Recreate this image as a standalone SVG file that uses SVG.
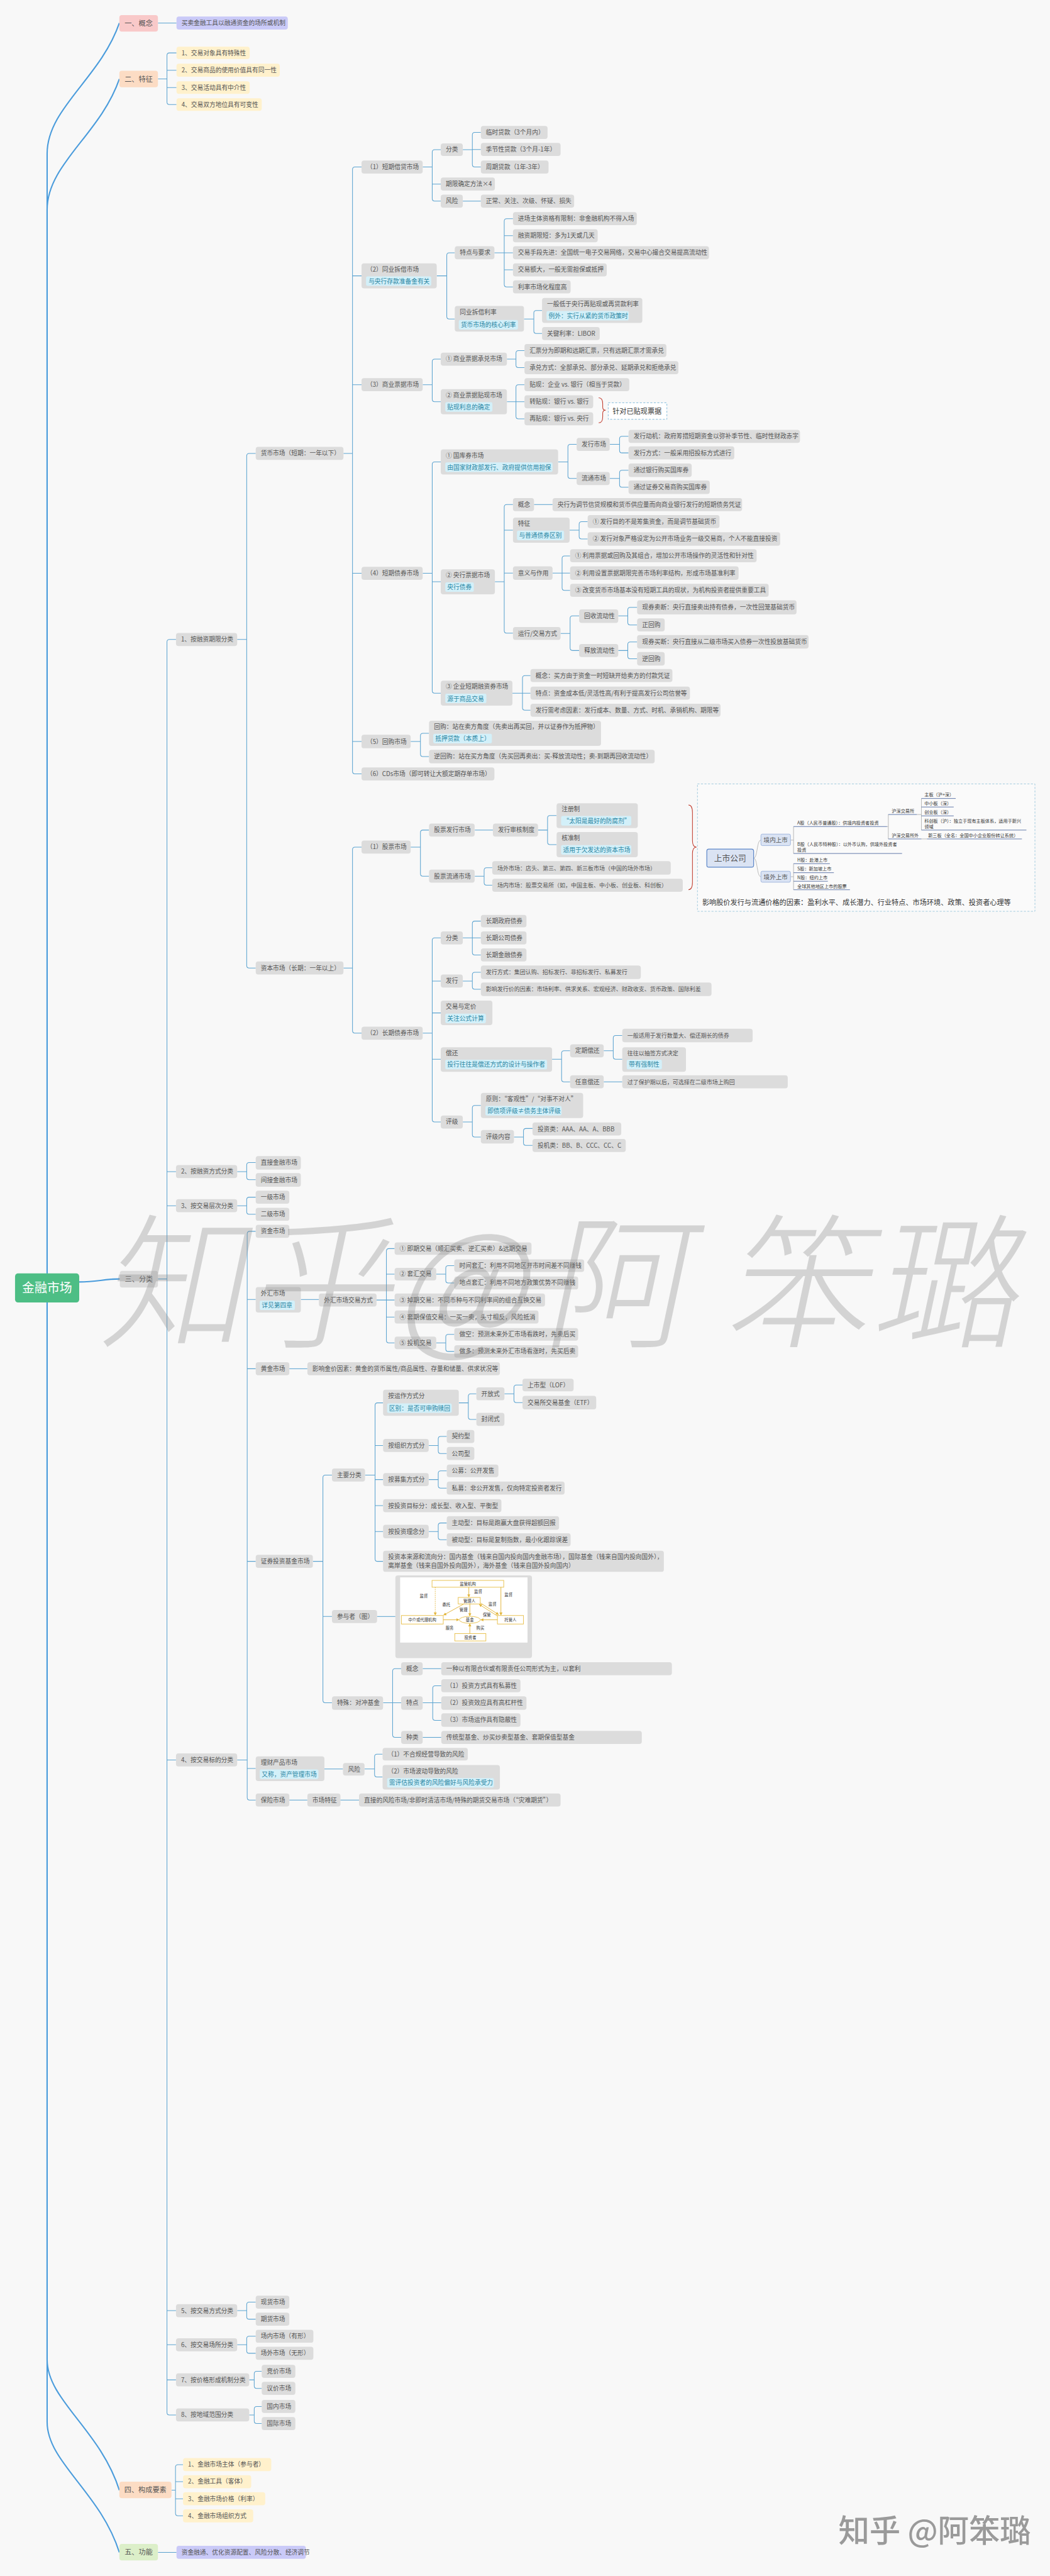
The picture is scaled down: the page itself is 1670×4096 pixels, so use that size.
<svg xmlns="http://www.w3.org/2000/svg" width="1670" height="4096" viewBox="0 0 1670 4096">
<style>
.t{font-family:"Noto Sans CJK SC","Microsoft YaHei",sans-serif;font-size:12.2px;fill:#555}
.s{font-size:11.3px}
.ht{font-family:"Noto Sans CJK SC",sans-serif;font-size:12.2px;fill:#2B87A4}
.n{fill:#DCDCDC;rx:5px}
.y{fill:#FFF1CC;rx:5px}
.h{fill:#D3F0F9;rx:3px}
.c{fill:none;stroke:#5BA3D0;stroke-width:1.3}
.rc{fill:none;stroke:#4A9CDC;stroke-width:2.6}
.im{font-family:"Noto Sans CJK SC",sans-serif;font-size:9px;fill:#333}
.ul{fill:none;stroke:#3D5A98;stroke-width:1}
.gl{fill:none;stroke:#E2B53A;stroke-width:1.2}
.gb{fill:#fff;stroke:#E8C14E;stroke-width:1.2}
.gt{font-family:"Noto Sans CJK SC",sans-serif;font-size:8px;fill:#333;text-anchor:middle}
.wm{font-family:"Noto Sans CJK SC",sans-serif;font-weight:300;font-size:290px;fill:#8a8a8a;opacity:.33}
</style>
<defs>
<marker id="ga" viewBox="0 0 6 6" refX="5" refY="3" markerWidth="5" markerHeight="5" orient="auto"><path d="M0,0L6,3L0,6z" fill="#E2B53A"/></marker>
</defs>
<rect width="1670" height="4096" fill="#F8F8F8"/>
<g transform="scale(0.7975)">

<g id="connectors">
<path class="rc" d="M94,2539 V306 C94,216 200,156 238,46"/>
<path class="rc" d="M94,2539 V417.5 C94,327.5 200,267.5 238,157.5"/>
<path class="rc" d="M158,2556 C195,2556 205,2550 239,2550"/>
<path class="rc" d="M94,2597 V4705 C94,4785 200,4845 238,4965"/>
<path class="rc" d="M94,2597 V4829 C94,4909 200,4969 238,5089"/>
<path class="c" d="M315,46 H352"/>
<path class="c" d="M315,157.5 H333 M352,105.5 H338 Q333,105.5 333,110.5 V203.5 Q333,208.5 338,208.5 H352 M333,140 H352 M333,174.5 H352"/>
<path class="c" d="M342,4965 H350 M365,4914 H355 Q350,4914 350,4919 V5011 Q350,5016 355,5016 H365 M350,4948 H365 M350,4982 H365"/>
<path class="c" d="M315,5089 H352"/>
<path class="c" d="M315,2550 H333 M351,1275 H338 Q333,1275 333,1280 V4810 Q333,4815 338,4815 H351 M333,2336 H351 M333,2404 H351 M333,3509 H351 M333,4607 H351 M333,4675 H351 M333,4745 H351"/>
<path class="c" d="M473,4607 H492 M510,4590 H497 Q492,4590 492,4595 V4619 Q492,4624 497,4624 H510"/>
<path class="c" d="M473,4675 H492 M510,4658 H497 Q492,4658 492,4663 V4687 Q492,4692 497,4692 H510"/>
<path class="c" d="M497,4745 H507 M522,4728 H512 Q507,4728 507,4733 V4757 Q507,4762 512,4762 H522"/>
<path class="c" d="M497,4815 H507 M522,4798 H512 Q507,4798 507,4803 V4827 Q507,4832 512,4832 H522"/>
<path class="c" d="M473,1275 H492 M510,904 H497 Q492,904 492,909 V1925 Q492,1930 497,1930 H510"/>
<path class="c" d="M685,904 H703 M721,333 H708 Q703,333 703,338 V1538 Q703,1543 708,1543 H721 M703,550 H721 M703,767 H721 M703,1143 H721 M703,1478.5 H721"/>
<path class="c" d="M843,333 H862 M879,298.5 H867 Q862,298.5 862,303.5 V396 Q862,401 867,401 H879 M862,367 H879"/>
<path class="c" d="M923,298.5 H942 M959,264 H947 Q942,264 942,269 V328 Q942,333 947,333 H959 M942,298 H959"/>
<path class="c" d="M923,401 H959"/>
<path class="c" d="M871,550 H891 M907,504 H896 Q891,504 891,509 V631 Q891,636 896,636 H907"/>
<path class="c" d="M986,504 H1005.6 M1023,436 H1010.6 Q1005.6,436 1005.6,441 V567 Q1005.6,572 1010.6,572 H1023 M1005.6,470 H1023 M1005.6,504 H1023 M1005.6,538 H1023"/>
<path class="c" d="M1045,636 H1064.6 M1081,619 H1069.6 Q1064.6,619 1064.6,624 V660 Q1064.6,665 1069.6,665 H1081"/>
<path class="c" d="M843,767 H862 M879,716 H867 Q862,716 862,721 V796 Q862,801 867,801 H879"/>
<path class="c" d="M1011,716 H1029 M1046,699 H1034 Q1029,699 1029,704 V728 Q1029,733 1034,733 H1046"/>
<path class="c" d="M1011,801 H1029 M1046,767 H1034 Q1029,767 1029,772 V830 Q1029,835 1034,835 H1046 M1029,801 H1046"/>
<path class="c" d="M843,1143 H862 M879,921 H867 Q862,921 862,926 V1377 Q862,1382 867,1382 H879 M862,1160 H879"/>
<path class="c" d="M1113,921 H1132.6 M1150,886 H1137.6 Q1132.6,886 1132.6,891 V949 Q1132.6,954 1137.6,954 H1150"/>
<path class="c" d="M1216,886 H1235.6 M1253.5,870 H1240.6 Q1235.6,870 1235.6,875 V898 Q1235.6,903 1240.6,903 H1253.5"/>
<path class="c" d="M1216,954 H1235.6 M1253.5,937.5 H1240.6 Q1235.6,937.5 1235.6,942.5 V966.5 Q1235.6,971.5 1240.6,971.5 H1253.5"/>
<path class="c" d="M987,1160 H1005.6 M1023,1006 H1010.6 Q1005.6,1006 1005.6,1011 V1257.5 Q1005.6,1262.5 1010.6,1262.5 H1023 M1005.6,1057 H1023 M1005.6,1142.5 H1023"/>
<path class="c" d="M1065,1006 H1102"/>
<path class="c" d="M1136,1057 H1155 M1172,1040 H1160 Q1155,1040 1155,1045 V1069.5 Q1155,1074.5 1160,1074.5 H1172"/>
<path class="c" d="M1102,1142.5 H1121 M1137,1108.5 H1126 Q1121,1108.5 1121,1113.5 V1172 Q1121,1177 1126,1177 H1137 M1121,1142.5 H1137"/>
<path class="c" d="M1118,1263 H1137 M1155,1228 H1142 Q1137,1228 1137,1233 V1292 Q1137,1297 1142,1297 H1155"/>
<path class="c" d="M1233,1228 H1252 M1270.6,1211 H1257 Q1252,1211 1252,1216 V1241 Q1252,1246 1257,1246 H1270.6"/>
<path class="c" d="M1233,1297 H1252 M1270.6,1280 H1257 Q1252,1280 1252,1285 V1308.5 Q1252,1313.5 1257,1313.5 H1270.6"/>
<path class="c" d="M1022,1382 H1042 M1058,1347 H1047 Q1042,1347 1042,1352 V1411 Q1042,1416 1047,1416 H1058 M1042,1382 H1058"/>
<path class="c" d="M819,1478.5 H838.5 M855.6,1462 H843.5 Q838.5,1462 838.5,1467 V1503.5 Q838.5,1508.5 843.5,1508.5 H855.6"/>
<path class="c" d="M685,1930 H703 M721,1689 H708 Q703,1689 703,1694 V2055 Q703,2060 708,2060 H721"/>
<path class="c" d="M819,1689 H838.5 M855.6,1655 H843.5 Q838.5,1655 838.5,1660 V1742 Q838.5,1747 843.5,1747 H855.6"/>
<path class="c" d="M947,1655 H983"/>
<path class="c" d="M1073,1655 H1092 M1110,1626 H1097 Q1092,1626 1092,1631 V1679 Q1092,1684 1097,1684 H1110"/>
<path class="c" d="M947,1747 H965.5 M981.7,1730 H970.5 Q965.5,1730 965.5,1735 V1760 Q965.5,1765 970.5,1765 H981.7"/>
<path class="c" d="M843,2060 H862 M879,1870 H867 Q862,1870 862,1875 V2232 Q862,2237 867,2237 H879 M862,1956 H879 M862,2019.6 H879 M862,2112 H879"/>
<path class="c" d="M923,1870 H942 M959,1836.5 H947 Q942,1836.5 942,1841.5 V1899 Q942,1904 947,1904 H959 M942,1870 H959"/>
<path class="c" d="M923,1956 H942 M959,1938.5 H947 Q942,1938.5 942,1943.5 V1967.5 Q942,1972.5 947,1972.5 H959"/>
<path class="c" d="M1101,2112 H1120 M1137,2095 H1125 Q1120,2095 1120,2100 V2152 Q1120,2157 1125,2157 H1137"/>
<path class="c" d="M1204,2095 H1223 M1241,2064.6 H1228 Q1223,2064.6 1223,2069.6 V2107 Q1223,2112 1228,2112 H1241"/>
<path class="c" d="M1204,2157 H1241"/>
<path class="c" d="M923,2237 H942 M959,2204 H947 Q942,2204 942,2209 V2262 Q942,2267 947,2267 H959"/>
<path class="c" d="M1025,2267 H1044 M1062,2250 H1049 Q1044,2250 1044,2255 V2278.6 Q1044,2283.6 1049,2283.6 H1062"/>
<path class="c" d="M473,2336 H492 M510,2318 H497 Q492,2318 492,2323 V2347 Q492,2352 497,2352 H510"/>
<path class="c" d="M473,2404 H492 M510,2387 H497 Q492,2387 492,2392 V2416 Q492,2421 497,2421 H510"/>
<path class="c" d="M473,3509 H493 M510,2455 H498 Q493,2455 493,2460 V3584 Q493,3589 498,3589 H510 M493,2591 H510 M493,2729 H510 M493,3113 H510 M493,3526 H510"/>
<path class="c" d="M577,3589 H613"/>
<path class="c" d="M600,2591 H636"/>
<path class="c" d="M751,2592 H770.6 M787,2489.5 H775.6 Q770.6,2489.5 770.6,2494.5 V2672.5 Q770.6,2677.5 775.6,2677.5 H787 M770.6,2540.5 H787 M770.6,2592 H787 M770.6,2626 H787"/>
<path class="c" d="M870,2540.5 H889 M906,2523.5 H894 Q889,2523.5 889,2528.5 V2553 Q889,2558 894,2558 H906"/>
<path class="c" d="M870,2677.5 H889 M906,2660.5 H894 Q889,2660.5 889,2665.5 V2689.5 Q889,2694.5 894,2694.5 H906"/>
<path class="c" d="M577,2729 H613"/>
<path class="c" d="M624,3113 H644 M662,2941 H649 Q644,2941 644,2946 V3390 Q644,3395 649,3395 H662 M644,3223 H662"/>
<path class="c" d="M728,2941 H748 M764,2797 H753 Q748,2797 748,2802 V3108 Q748,3113 753,3113 H764 M748,2882 H764 M748,2950 H764 M748,3002 H764 M748,3053.5 H764"/>
<path class="c" d="M915,2797 H934 M950,2779 H939 Q934,2779 934,2784 V2825 Q934,2830 939,2830 H950"/>
<path class="c" d="M1006,2779 H1025 M1042,2761.5 H1030 Q1025,2761.5 1025,2766.5 V2791.5 Q1025,2796.5 1030,2796.5 H1042"/>
<path class="c" d="M855,2882 H874 M891,2864 H879 Q874,2864 874,2869 V2893 Q874,2898 879,2898 H891"/>
<path class="c" d="M855,2950 H874 M891,2932.5 H879 Q874,2932.5 874,2937.5 V2962 Q874,2967 879,2967 H891"/>
<path class="c" d="M855,3053.5 H874 M891,3036.5 H879 Q874,3036.5 874,3041.5 V3065 Q874,3070 879,3070 H891"/>
<path class="c" d="M752,3223 H788.5"/>
<path class="c" d="M764,3395 H783 M800,3327 H788 Q783,3327 783,3332 V3459 Q783,3464 788,3464 H800 M783,3395 H800"/>
<path class="c" d="M843,3327 H880"/>
<path class="c" d="M843,3395 H863 M880,3361 H868 Q863,3361 863,3366 V3425 Q863,3430 868,3430 H880 M863,3395 H880"/>
<path class="c" d="M843,3464 H880"/>
<path class="c" d="M647,3527 H684"/>
<path class="c" d="M727,3527 H747 M763,3497.5 H752 Q747,3497.5 747,3502.5 V3538 Q747,3543 752,3543 H763"/>
<path fill="none" stroke="#C0392B" stroke-width="1.3" d="M1194,793 Q1202,793 1202,805 V812 Q1202,818 1208,818 Q1202,818 1202,824 V831 Q1202,843 1194,843"/>
<path fill="none" stroke="#C0392B" stroke-width="1.3" d="M1373,1605 Q1381,1605 1381,1620 V1676 Q1381,1689 1389,1689 Q1381,1689 1381,1702 V1759 Q1381,1774 1373,1774"/>
</g>

<g id="root"><rect x="30" y="2539" width="128" height="58" rx="6" fill="#4DBE85"/><text x="94" y="2577" text-anchor="middle" style="font-family:'Noto Sans CJK SC',sans-serif;font-size:25px;fill:#fff">金融市场</text></g>

<g id="n-gainian"><rect x="238" y="30" width="77" height="33" rx="5" fill="#F9C9C9"/><text class="t" x="276.5" y="51" text-anchor="middle" style="font-size:14px">一、概念</text></g>
<g id="n-gainian-1"><rect x="352" y="33" width="222" height="26" rx="5" fill="#CACAF8"/><text class="t" x="362" y="50.3">买卖金融工具以融通资金的场所或机制</text></g>
<g id="n-tezheng"><rect x="238" y="141" width="77" height="33" rx="5" fill="#FCDCC4"/><text class="t" x="276.5" y="162.5" text-anchor="middle" style="font-size:14px">二、特征</text></g>
<g id="n-tz1"><rect class="y" x="352" y="93" width="146" height="25"/><text class="t" x="362" y="109.8">1、交易对象具有特殊性</text></g>
<g id="n-tz2"><rect class="y" x="352" y="127" width="206" height="26"/><text class="t" x="362" y="144.3">2、交易商品的使用价值具有同一性</text></g>
<g id="n-tz3"><rect class="y" x="352" y="162" width="146" height="25"/><text class="t" x="362" y="178.8">3、交易活动具有中介性</text></g>
<g id="n-tz4"><rect class="y" x="352" y="196" width="170" height="25"/><text class="t" x="362" y="212.8">4、交易双方地位具有可变性</text></g>
<g id="n-fenlei"><rect x="239" y="2534" width="76" height="33" rx="5" fill="#DCDCDC"/><text class="t" x="277" y="2555.5" text-anchor="middle" style="font-size:14px">三、分类</text></g>
<g id="n-yaosu"><rect x="238" y="4948" width="104" height="33" rx="5" fill="#FCDCC4"/><text class="t" x="290" y="4969.5" text-anchor="middle" style="font-size:14px">四、构成要素</text></g>
<g id="n-ys1"><rect class="y" x="365" y="4901" width="176" height="26"/><text class="t" x="375" y="4918.3">1、金融市场主体（参与者）</text></g>
<g id="n-ys2"><rect class="y" x="365" y="4935" width="136" height="26"/><text class="t" x="375" y="4952.3">2、金融工具（客体）</text></g>
<g id="n-ys3"><rect class="y" x="365" y="4969" width="164" height="26"/><text class="t" x="375" y="4986.3">3、金融市场价格（利率）</text></g>
<g id="n-ys4"><rect class="y" x="365" y="5003" width="140" height="26"/><text class="t" x="375" y="5020.3">4、金融市场组织方式</text></g>
<g id="n-gongneng"><rect x="238" y="5072" width="77" height="33" rx="5" fill="#DCEFC9"/><text class="t" x="276.5" y="5093.5" text-anchor="middle" style="font-size:14px">五、功能</text></g>
<g id="n-gn1"><rect x="352" y="5076" width="258" height="26" rx="5" fill="#CACAF8"/><text class="t" x="362" y="5093.3">资金融通、优化资源配置、风险分散、经济调节</text></g>

<g id="n-c1"><rect class="n" x="351" y="1262" width="122" height="26"/><text class="t" x="361" y="1279.3">1、按融资期限分类</text></g>
<g id="n-hbsc"><rect class="n" x="510" y="891" width="175" height="26"/><text class="t" x="520" y="908.3">货币市场（短期：一年以下）</text></g>
<g id="n-m1"><rect class="n" x="721" y="320" width="122" height="26"/><text class="t" x="731" y="337.3">（1）短期借贷市场</text></g>
<g id="n-m1a"><rect class="n" x="879" y="286" width="44" height="25"/><text class="t" x="889" y="302.8">分类</text></g>
<g id="n-m1b"><rect class="n" x="879" y="354" width="108" height="26"/><text class="t" x="889" y="371.3">期限确定方法×4</text></g>
<g id="n-m1c"><rect class="n" x="879" y="388" width="44" height="26"/><text class="t" x="889" y="405.3">风险</text></g>
<g id="n-m1a1"><rect class="n" x="959" y="251" width="133" height="26"/><text class="t" x="969" y="268.3">临时贷款（3个月内）</text></g>
<g id="n-m1a2"><rect class="n" x="959" y="285" width="159" height="26"/><text class="t" x="969" y="302.3">季节性贷款（3个月-1年）</text></g>
<g id="n-m1a3"><rect class="n" x="959" y="320" width="135" height="26"/><text class="t" x="969" y="337.3">周期贷款（1年-3年）</text></g>
<g id="n-m1c1"><rect class="n" x="959" y="388" width="186" height="26"/><text class="t" x="969" y="405.3">正常、关注、次级、怀疑、损失</text></g>
<g id="n-m2"><rect class="n" x="721" y="525" width="150" height="50"/><text class="t" x="731" y="541.5">（2）同业拆借市场</text><rect class="h" x="730" y="551" width="130" height="19"/><text class="ht" x="735" y="565">与央行存款准备金有关</text></g>
<g id="n-m2a"><rect class="n" x="907" y="491" width="79" height="26"/><text class="t" x="917" y="508.3">特点与要求</text></g>
<g id="n-m2a1"><rect class="n" x="1023" y="423" width="247" height="26"/><text class="t" x="1033" y="440.3">进场主体资格有限制：非金融机构不得入场</text></g>
<g id="n-m2a2"><rect class="n" x="1023" y="457" width="169" height="26"/><text class="t" x="1033" y="474.3">融资期限短：多为1天或几天</text></g>
<g id="n-m2a3"><rect class="n" x="1023" y="491" width="391" height="26"/><text class="t" x="1033" y="508.3">交易手段先进：全国统一电子交易网络，交易中心撮合交易提高流动性</text></g>
<g id="n-m2a4"><rect class="n" x="1023" y="525" width="187" height="26"/><text class="t" x="1033" y="542.3">交易额大，一般无需担保或抵押</text></g>
<g id="n-m2a5"><rect class="n" x="1023" y="559" width="115" height="26"/><text class="t" x="1033" y="576.3">利率市场化程度高</text></g>
<g id="n-m2b"><rect class="n" x="907" y="610" width="138" height="51"/><text class="t" x="917" y="627">同业拆借利率</text><rect class="h" x="915" y="638" width="118" height="19"/><text class="ht" x="919" y="652">货币市场的核心利率</text></g>
<g id="n-m2b1"><rect class="n" x="1081" y="594" width="200" height="50"/><text class="t" x="1091" y="611">一般低于央行再贴现或再贷款利率</text><rect class="h" x="1090" y="620" width="164" height="19"/><text class="ht" x="1094" y="634">例外：实行从紧的货币政策时</text></g>
<g id="n-m2b2"><rect class="n" x="1081" y="652" width="115" height="26"/><text class="t" x="1091" y="669.3">关键利率：LIBOR</text></g>
<g id="n-m3"><rect class="n" x="721" y="754" width="122" height="26"/><text class="t" x="731" y="771.3">（3）商业票据市场</text></g>
<g id="n-m3a"><rect class="n" x="879" y="703" width="132" height="26"/><text class="t" x="889" y="720.3">① 商业票据承兑市场</text></g>
<g id="n-m3b"><rect class="n" x="879" y="776" width="132" height="50"/><text class="t" x="889" y="792.5">② 商业票据贴现市场</text><rect class="h" x="888" y="802" width="94" height="19"/><text class="ht" x="892" y="816.5">贴现利息的确定</text></g>
<g id="n-m3a1"><rect class="n" x="1046" y="686" width="283" height="26"/><text class="t" x="1056" y="703.3">汇票分为即期和远期汇票，只有远期汇票才需承兑</text></g>
<g id="n-m3a2"><rect class="n" x="1046" y="720" width="307" height="26"/><text class="t" x="1056" y="737.3">承兑方式：全部承兑、部分承兑、延期承兑和拒绝承兑</text></g>
<g id="n-m3b1"><rect class="n" x="1046" y="754" width="209" height="26"/><text class="t" x="1056" y="771.3">贴现：企业 vs. 银行（相当于贷款）</text></g>
<g id="n-m3b2"><rect class="n" x="1046" y="788" width="137" height="26"/><text class="t" x="1056" y="805.3">转贴现：银行 vs. 银行</text></g>
<g id="n-m3b3"><rect class="n" x="1046" y="822" width="137" height="26"/><text class="t" x="1056" y="839.3">再贴现：银行 vs. 央行</text></g>
<g id="n-m3note"><rect x="1213" y="803" width="117" height="33" fill="#fff" stroke="#6AAED6" stroke-dasharray="4,3"/><text class="t" x="1221.5" y="824.5" style="font-size:14px;fill:#333">针对已贴现票据</text></g>
<g id="n-m4"><rect class="n" x="721" y="1130" width="122" height="26"/><text class="t" x="731" y="1147.3">（4）短期债券市场</text></g>
<g id="n-m4a"><rect class="n" x="879" y="896" width="234" height="50"/><text class="t" x="889" y="912.5">① 国库券市场</text><rect class="h" x="888" y="922" width="214" height="19"/><text class="ht" x="892" y="936.5">由国家财政部发行、政府提供信用担保</text></g>
<g id="n-m4a1"><rect class="n" x="1150" y="873" width="66" height="26"/><text class="t" x="1160" y="890.3">发行市场</text></g>
<g id="n-m4a2"><rect class="n" x="1150" y="941" width="66" height="26"/><text class="t" x="1160" y="958.3">流通市场</text></g>
<g id="n-m4a11"><rect class="n" x="1253.5" y="857" width="342" height="26"/><text class="t" x="1263.5" y="874.3">发行动机：政府筹措短期资金以弥补季节性、临时性财政赤字</text></g>
<g id="n-m4a12"><rect class="n" x="1253.5" y="890" width="211" height="26"/><text class="t" x="1263.5" y="907.3">发行方式：一般采用招投标方式进行</text></g>
<g id="n-m4a21"><rect class="n" x="1253.5" y="924" width="126" height="27"/><text class="t" x="1263.5" y="941.8">通过银行购买国库券</text></g>
<g id="n-m4a22"><rect class="n" x="1253.5" y="958" width="162" height="27"/><text class="t" x="1263.5" y="975.8">通过证券交易商购买国库券</text></g>
<g id="n-m4b"><rect class="n" x="879" y="1135" width="108" height="50"/><text class="t" x="889" y="1151.5">② 央行票据市场</text><rect class="h" x="888" y="1161" width="57" height="19"/><text class="ht" x="892" y="1175.5">央行债券</text></g>
<g id="n-m4b1"><rect class="n" x="1023" y="993" width="42" height="26"/><text class="t" x="1033" y="1010.3">概念</text></g>
<g id="n-m4b11"><rect class="n" x="1102" y="993" width="378" height="26"/><text class="t" x="1112" y="1010.3">央行为调节信贷规模和货币供应量而向商业银行发行的短期债务凭证</text></g>
<g id="n-m4b2"><rect class="n" x="1023" y="1032" width="113" height="50"/><text class="t" x="1033" y="1048.5">特征</text><rect class="h" x="1031" y="1058" width="94" height="19"/><text class="ht" x="1035" y="1072.5">与普通债券区别</text></g>
<g id="n-m4b21"><rect class="n" x="1172" y="1027" width="263" height="26"/><text class="t" x="1182" y="1044.3">① 发行目的不是筹集资金，而是调节基础货币</text></g>
<g id="n-m4b22"><rect class="n" x="1172" y="1061" width="384" height="27"/><text class="t" x="1182" y="1078.8">② 发行对象严格设定为公开市场业务一级交易商，个人不能直接投资</text></g>
<g id="n-m4b3"><rect class="n" x="1023" y="1129" width="79" height="27"/><text class="t" x="1033" y="1146.8">意义与作用</text></g>
<g id="n-m4b31"><rect class="n" x="1137" y="1095" width="372" height="26"/><text class="t" x="1147" y="1112.3">① 利用票据或回购及其组合，增加公开市场操作的灵活性和针对性</text></g>
<g id="n-m4b32"><rect class="n" x="1137" y="1129" width="336" height="27"/><text class="t" x="1147" y="1146.8">② 利用设置票据期限完善市场利率结构，形成市场基准利率</text></g>
<g id="n-m4b33"><rect class="n" x="1137" y="1164" width="396" height="26"/><text class="t" x="1147" y="1181.3">③ 改变货币市场基本没有短期工具的现状，为机构投资者提供重要工具</text></g>
<g id="n-m4b4"><rect class="n" x="1023" y="1250" width="95" height="26"/><text class="t" x="1033" y="1267.3">运行/交易方式</text></g>
<g id="n-m4b41"><rect class="n" x="1155" y="1215" width="78" height="27"/><text class="t" x="1165" y="1232.8">回收流动性</text></g>
<g id="n-m4b42"><rect class="n" x="1155" y="1284" width="78" height="26"/><text class="t" x="1165" y="1301.3">释放流动性</text></g>
<g id="n-m4b411"><rect class="n" x="1270.6" y="1197" width="318" height="28"/><text class="t" x="1280.6" y="1215.3">现券卖断：央行直接卖出持有债券，一次性回笼基础货币</text></g>
<g id="n-m4b412"><rect class="n" x="1270.6" y="1233" width="55" height="26"/><text class="t" x="1280.6" y="1250.3">正回购</text></g>
<g id="n-m4b421"><rect class="n" x="1270.6" y="1266" width="342" height="27"/><text class="t" x="1280.6" y="1283.8">现券买断：央行直接从二级市场买入债券一次性投放基础货币</text></g>
<g id="n-m4b422"><rect class="n" x="1270.6" y="1300" width="55" height="27"/><text class="t" x="1280.6" y="1317.8">逆回购</text></g>
<g id="n-m4c"><rect class="n" x="879" y="1357" width="143" height="50"/><text class="t" x="889" y="1373.5">③ 企业短期融资券市场</text><rect class="h" x="888" y="1383" width="82" height="19"/><text class="ht" x="892" y="1397.5">源于商品交易</text></g>
<g id="n-m4c1"><rect class="n" x="1058" y="1334" width="283" height="26"/><text class="t" x="1068" y="1351.3">概念：买方由于资金一时短缺开给卖方的付款凭证</text></g>
<g id="n-m4c2"><rect class="n" x="1058" y="1369" width="318" height="26"/><text class="t" x="1068" y="1386.3">特点：资金成本低/灵活性高/有利于提高发行公司信誉等</text></g>
<g id="n-m4c3"><rect class="n" x="1058" y="1403" width="379" height="26"/><text class="t" x="1068" y="1420.3">发行需考虑因素：发行成本、数量、方式、时机、承销机构、期限等</text></g>
<g id="n-m5"><rect class="n" x="721" y="1465" width="98" height="27"/><text class="t" x="731" y="1482.8">（5）回购市场</text></g>
<g id="n-m5a"><rect class="n" x="855.6" y="1437" width="343" height="50"/><text class="t" x="865.6" y="1453.5">回购：站在卖方角度（先卖出再买回，并以证券作为抵押物）</text><rect class="h" x="864" y="1463" width="117" height="19"/><text class="ht" x="868" y="1477.5">抵押贷款（本质上）</text></g>
<g id="n-m5b"><rect class="n" x="855.6" y="1495" width="450" height="27"/><text class="t" x="865.6" y="1512.8">逆回购：站在买方角度（先买回再卖出：买-释放流动性；卖-到期再回收流动性）</text></g>
<g id="n-m6"><rect class="n" x="721" y="1530" width="265" height="26"/><text class="t" x="731" y="1547.3">（6）CDs市场（即可转让大额定期存单市场）</text></g>

<g id="n-zbsc"><rect class="n" x="510" y="1917" width="175" height="26"/><text class="t" x="520" y="1934.3">资本市场（长期：一年以上）</text></g>
<g id="n-k1"><rect class="n" x="721" y="1676" width="98" height="26"/><text class="t" x="731" y="1693.3">（1）股票市场</text></g>
<g id="n-k1a"><rect class="n" x="855.6" y="1642" width="91" height="26"/><text class="t" x="865.6" y="1659.3">股票发行市场</text></g>
<g id="n-k1b"><rect class="n" x="855.6" y="1734" width="91" height="26"/><text class="t" x="865.6" y="1751.3">股票流通市场</text></g>
<g id="n-k1a1"><rect class="n" x="983" y="1642" width="90" height="26"/><text class="t" x="993" y="1659.3">发行审核制度</text></g>
<g id="n-k1a11"><rect class="n" x="1110" y="1601.5" width="162" height="49.5"/><text class="t" x="1120" y="1618">注册制</text><rect class="h" x="1119" y="1627" width="140" height="19"/><text class="ht" x="1123" y="1641.5">“太阳是最好的防腐剂”</text></g>
<g id="n-k1a12"><rect class="n" x="1110" y="1659" width="162" height="50"/><text class="t" x="1120" y="1675.5">核准制</text><rect class="h" x="1119" y="1685" width="140" height="19"/><text class="ht" x="1123" y="1699.5">适用于欠发达的资本市场</text></g>
<g id="n-k1b1"><rect class="n" x="981.7" y="1717" width="356" height="27"/><text class="t s" x="991.7" y="1734.8">场外市场：店头、第三、第四、新三板市场（中国的场外市场）</text></g>
<g id="n-k1b2"><rect class="n" x="981.7" y="1752" width="380" height="26"/><text class="t s" x="991.7" y="1769.3">场内市场：股票交易所（如，中国主板、中小板、创业板、科创板）</text></g>

<g id="n-listing">
<rect x="1391" y="1563" width="673" height="254" fill="#FAFAFA" stroke="#8DBFD8" stroke-dasharray="4,3"/>
<path fill="none" stroke="#A9A9A9" d="M1503,1711 C1511,1711 1509,1675 1517.5,1675 M1503,1711 C1511,1711 1509,1748 1517.5,1748 M1576.7,1675 H1582.6 M1582.6,1648 V1701.7 M1576.7,1748 H1582.6 M1582.6,1722 V1774 M1769,1648 H1771.6 M1771.6,1624 V1672.7 M1828.5,1624 H1837.6 M1837.6,1592 V1655 M1837.6,1672.7 H1849"/>
<path class="ul" d="M1582.6,1648 H1769 M1582.6,1701.7 H1799 M1771.6,1624 H1828.5 M1771.6,1672.7 H1837.6 M1837.6,1592 H1906 M1837.6,1609 H1902 M1837.6,1626.7 H1902 M1837.6,1655 H2047 M1849,1672.7 H2038 M1582.6,1722 H1655 M1582.6,1740 H1663 M1582.6,1757 H1651 M1582.6,1774 H1695"/>
<rect x="1409.6" y="1693" width="93.4" height="36" rx="4" fill="#DAE3F3" stroke="#5B85C7" stroke-width="1.5"/>
<text x="1456" y="1717" text-anchor="middle" style="font-family:'Noto Sans CJK SC',sans-serif;font-size:16px;fill:#555">上市公司</text>
<rect x="1517.5" y="1663" width="59" height="23" rx="3" fill="#DAE3F3" stroke="#8FA9D8"/>
<text x="1547" y="1679" text-anchor="middle" style="font-family:'Noto Sans CJK SC',sans-serif;font-size:12px;fill:#555">境内上市</text>
<rect x="1517.5" y="1737" width="59" height="22" rx="3" fill="#DAE3F3" stroke="#8FA9D8"/>
<text x="1547" y="1752.5" text-anchor="middle" style="font-family:'Noto Sans CJK SC',sans-serif;font-size:12px;fill:#555">境外上市</text>
<text class="im" x="1590" y="1644">A股（人民币普通股）：供境内投资者投资</text>
<text class="im" x="1590" y="1686">B股（人民币特种股）：以外币认购，供境外投资者</text>
<text class="im" x="1590" y="1698">投资</text>
<text class="im" x="1778.5" y="1620">沪深交易所</text>
<text class="im" x="1778.5" y="1669">沪深交易所外</text>
<text class="im" x="1843.6" y="1588">主板（沪+深）</text>
<text class="im" x="1843.6" y="1605.5">中小板（深）</text>
<text class="im" x="1843.6" y="1623">创业板（深）</text>
<text class="im" x="1843.6" y="1640">科创板（沪）：独立于现有主板体系，适用于新兴</text>
<text class="im" x="1843.6" y="1651.5">领域</text>
<text class="im" x="1851" y="1669">新三板（全名：全国中小企业股份转让系统）</text>
<text class="im" x="1590" y="1718">H股：赴港上市</text>
<text class="im" x="1590" y="1736">S股：新加坡上市</text>
<text class="im" x="1590" y="1753.5">N股：纽约上市</text>
<text class="im" x="1590" y="1771">全球其他地区上市的股票</text>
<text x="1400.5" y="1804" style="font-family:'Noto Sans CJK SC',sans-serif;font-size:14px;fill:#333">影响股价发行与流通价格的因素：盈利水平、成长潜力、行业特点、市场环境、政策、投资者心理等</text>
</g>

<g id="n-k2"><rect class="n" x="721" y="2047" width="122" height="26"/><text class="t" x="731" y="2064.3">（2）长期债券市场</text></g>
<g id="n-k2a"><rect class="n" x="879" y="1857" width="44" height="26"/><text class="t" x="889" y="1874.3">分类</text></g>
<g id="n-k2a1"><rect class="n" x="959" y="1824" width="91" height="25"/><text class="t" x="969" y="1840.8">长期政府债券</text></g>
<g id="n-k2a2"><rect class="n" x="959" y="1857" width="91" height="26"/><text class="t" x="969" y="1874.3">长期公司债券</text></g>
<g id="n-k2a3"><rect class="n" x="959" y="1891" width="91" height="26"/><text class="t" x="969" y="1908.3">长期金融债券</text></g>
<g id="n-k2b"><rect class="n" x="879" y="1943" width="44" height="26"/><text class="t" x="889" y="1960.3">发行</text></g>
<g id="n-k2b1"><rect class="n" x="959" y="1925" width="319" height="27"/><text class="t s" x="969" y="1942.8">发行方式：集团认购、招标发行、非招标发行、私募发行</text></g>
<g id="n-k2b2"><rect class="n" x="959" y="1959" width="460" height="27"/><text class="t s" x="969" y="1976.8">影响发行价的因素：市场利率、供求关系、宏观经济、财政收支、货币政策、国际利差</text></g>
<g id="n-k2c"><rect class="n" x="879" y="1995" width="103" height="49"/><text class="t" x="889" y="2011.5">交易与定价</text><rect class="h" x="888" y="2021" width="81" height="19"/><text class="ht" x="892" y="2035">关注公式计算</text></g>
<g id="n-k2d"><rect class="n" x="879" y="2088" width="222" height="49"/><text class="t" x="889" y="2104.5">偿还</text><rect class="h" x="888" y="2113" width="203" height="19"/><text class="ht" x="892" y="2127">投行往往是偿还方式的设计与操作者</text></g>
<g id="n-k2d1"><rect class="n" x="1137" y="2082" width="67" height="26"/><text class="t" x="1147" y="2099.3">定期偿还</text></g>
<g id="n-k2d2"><rect class="n" x="1137" y="2144" width="67" height="26"/><text class="t" x="1147" y="2161.3">任意偿还</text></g>
<g id="n-k2d11"><rect class="n" x="1241" y="2051" width="260" height="27"/><text class="t s" x="1251" y="2068.8">一般适用于发行数量大、偿还期长的债券</text></g>
<g id="n-k2d12"><rect class="n" x="1241" y="2088" width="127" height="49"/><text class="t s" x="1251" y="2104.5">往往以抽签方式决定</text><rect class="h" x="1250" y="2113" width="70" height="19"/><text class="ht" x="1254" y="2127">带有强制性</text></g>
<g id="n-k2d21"><rect class="n" x="1241" y="2144" width="330" height="26"/><text class="t s" x="1251" y="2161.3">过了保护期以后，可选择在二级市场上购回</text></g>
<g id="n-k2e"><rect class="n" x="879" y="2224" width="44" height="26"/><text class="t" x="889" y="2241.3">评级</text></g>
<g id="n-k2e1"><rect class="n" x="959" y="2179" width="204" height="50"/><text class="t" x="969" y="2195.5">原则：“客观性”/“对事不对人”</text><rect class="h" x="968" y="2205" width="152" height="19"/><text class="ht" x="972" y="2219">即债项评级≠债务主体评级</text></g>
<g id="n-k2e2"><rect class="n" x="959" y="2253" width="66" height="27"/><text class="t" x="969" y="2270.8">评级内容</text></g>
<g id="n-k2e21"><rect class="n" x="1062" y="2238" width="177" height="26"/><text class="t" x="1072" y="2255.3">投资类：AAA、AA、A、BBB</text></g>
<g id="n-k2e22"><rect class="n" x="1062" y="2271" width="186" height="26"/><text class="t" x="1072" y="2288.3">投机类：BB、B、CCC、CC、C</text></g>

<g id="n-c2"><rect class="n" x="351" y="2323" width="122" height="26"/><text class="t" x="361" y="2340.3">2、按融资方式分类</text></g>
<g id="n-c2a"><rect class="n" x="510" y="2305" width="90" height="27"/><text class="t" x="520" y="2322.8">直接金融市场</text></g>
<g id="n-c2b"><rect class="n" x="510" y="2339" width="90" height="27"/><text class="t" x="520" y="2356.8">间接金融市场</text></g>
<g id="n-c3"><rect class="n" x="351" y="2391" width="122" height="26"/><text class="t" x="361" y="2408.3">3、按交易层次分类</text></g>
<g id="n-c3a"><rect class="n" x="510" y="2374" width="67" height="26"/><text class="t" x="520" y="2391.3">一级市场</text></g>
<g id="n-c3b"><rect class="n" x="510" y="2408" width="67" height="26"/><text class="t" x="520" y="2425.3">二级市场</text></g>
<g id="n-c4"><rect class="n" x="351" y="3496" width="122" height="26"/><text class="t" x="361" y="3513.3">4、按交易标的分类</text></g>
<g id="n-c5"><rect class="n" x="351" y="4594" width="122" height="26"/><text class="t" x="361" y="4611.3">5、按交易方式分类</text></g>
<g id="n-c5a"><rect class="n" x="510" y="4577" width="67" height="26"/><text class="t" x="520" y="4594.3">现货市场</text></g>
<g id="n-c5b"><rect class="n" x="510" y="4611" width="67" height="26"/><text class="t" x="520" y="4628.3">期货市场</text></g>
<g id="n-c6"><rect class="n" x="351" y="4662" width="122" height="26"/><text class="t" x="361" y="4679.3">6、按交易场所分类</text></g>
<g id="n-c6a"><rect class="n" x="510" y="4645" width="115" height="26"/><text class="t" x="520" y="4662.3">场内市场（有形）</text></g>
<g id="n-c6b"><rect class="n" x="510" y="4679" width="115" height="26"/><text class="t" x="520" y="4696.3">场外市场（无形）</text></g>
<g id="n-c7"><rect class="n" x="351" y="4732" width="146" height="26"/><text class="t" x="361" y="4749.3">7、按价格形成机制分类</text></g>
<g id="n-c7a"><rect class="n" x="522" y="4715" width="67" height="26"/><text class="t" x="532" y="4732.3">竞价市场</text></g>
<g id="n-c7b"><rect class="n" x="522" y="4749" width="67" height="26"/><text class="t" x="532" y="4766.3">议价市场</text></g>
<g id="n-c8"><rect class="n" x="351" y="4802" width="146" height="26"/><text class="t" x="361" y="4819.3">8、按地域范围分类</text></g>
<g id="n-c8a"><rect class="n" x="522" y="4785" width="67" height="26"/><text class="t" x="532" y="4802.3">国内市场</text></g>
<g id="n-c8b"><rect class="n" x="522" y="4819" width="67" height="26"/><text class="t" x="532" y="4836.3">国际市场</text></g>
<g id="n-zj"><rect class="n" x="510" y="2442" width="67" height="26"/><text class="t" x="520" y="2459.3">资金市场</text></g>
<g id="n-wh"><rect class="n" x="510" y="2566" width="90" height="51"/><text class="t" x="520" y="2583">外汇市场</text><rect class="h" x="518" y="2593" width="70" height="19"/><text class="ht" x="522" y="2607.5">详见第四章</text></g>
<g id="n-wh1"><rect class="n" x="636" y="2579" width="115" height="26"/><text class="t" x="646" y="2596.3">外汇市场交易方式</text></g>
<g id="n-wh1a"><rect class="n" x="787" y="2477" width="273" height="25"/><text class="t" x="797" y="2493.8">① 即期交易（顺汇买卖、逆汇买卖）&amp;远期交易</text></g>
<g id="n-wh1b"><rect class="n" x="787" y="2528" width="83" height="25"/><text class="t" x="797" y="2544.8">② 套汇交易</text></g>
<g id="n-wh1b1"><rect class="n" x="906" y="2511" width="259" height="25"/><text class="t" x="916" y="2527.8">时间套汇：利用不同地区开市时间差不同赚钱</text></g>
<g id="n-wh1b2"><rect class="n" x="906" y="2545" width="247" height="26"/><text class="t" x="916" y="2562.3">地点套汇：利用不同地方政策优势不同赚钱</text></g>
<g id="n-wh1c"><rect class="n" x="787" y="2579" width="300" height="26"/><text class="t" x="797" y="2596.3">③ 掉期交易：不同币种与不同利率间的组合互换交易</text></g>
<g id="n-wh1d"><rect class="n" x="787" y="2613" width="287" height="26"/><text class="t" x="797" y="2630.3">④ 套期保值交易：一买一卖，头寸相反，风险抵消</text></g>
<g id="n-wh1e"><rect class="n" x="787" y="2665" width="83" height="25"/><text class="t" x="797" y="2681.8">⑤ 投机交易</text></g>
<g id="n-wh1e1"><rect class="n" x="906" y="2648" width="247" height="25"/><text class="t" x="916" y="2664.8">做空：预测未来外汇市场看跌时，先卖后买</text></g>
<g id="n-wh1e2"><rect class="n" x="906" y="2682" width="247" height="25"/><text class="t" x="916" y="2698.8">做多：预测未来外汇市场看涨时，先买后卖</text></g>
<g id="n-hj"><rect class="n" x="510" y="2716" width="67" height="26"/><text class="t" x="520" y="2733.3">黄金市场</text></g>
<g id="n-hj1"><rect class="n" x="613" y="2716" width="384" height="26"/><text class="t" x="623" y="2733.3">影响金价因素：黄金的货币属性/商品属性、存量和储量、供求状况等</text></g>

<g id="n-jj"><rect class="n" x="510" y="3100" width="114" height="26"/><text class="t" x="520" y="3117.3">证券投资基金市场</text></g>
<g id="n-jj1"><rect class="n" x="662" y="2928" width="66" height="26"/><text class="t" x="672" y="2945.3">主要分类</text></g>
<g id="n-jj1a"><rect class="n" x="764" y="2771" width="151" height="52"/><text class="t" x="774" y="2788">按运作方式分</text><rect class="h" x="772" y="2798" width="129" height="19"/><text class="ht" x="776" y="2812">区别：是否可申购赎回</text></g>
<g id="n-jj1a1"><rect class="n" x="950" y="2766" width="56" height="26"/><text class="t" x="960" y="2783.3">开放式</text></g>
<g id="n-jj1a2"><rect class="n" x="950" y="2817" width="56" height="26"/><text class="t" x="960" y="2834.3">封闭式</text></g>
<g id="n-jj1a11"><rect class="n" x="1042" y="2749" width="102" height="25"/><text class="t" x="1052" y="2765.8">上市型（LOF）</text></g>
<g id="n-jj1a12"><rect class="n" x="1042" y="2783" width="147" height="27"/><text class="t" x="1052" y="2800.8">交易所交易基金（ETF）</text></g>
<g id="n-jj1b"><rect class="n" x="764" y="2869" width="91" height="26"/><text class="t" x="774" y="2886.3">按组织方式分</text></g>
<g id="n-jj1b1"><rect class="n" x="891" y="2851" width="55" height="26"/><text class="t" x="901" y="2868.3">契约型</text></g>
<g id="n-jj1b2"><rect class="n" x="891" y="2885" width="55" height="26"/><text class="t" x="901" y="2902.3">公司型</text></g>
<g id="n-jj1c"><rect class="n" x="764" y="2937" width="91" height="26"/><text class="t" x="774" y="2954.3">按募集方式分</text></g>
<g id="n-jj1c1"><rect class="n" x="891" y="2920" width="103" height="25"/><text class="t" x="901" y="2936.8">公募：公开发售</text></g>
<g id="n-jj1c2"><rect class="n" x="891" y="2954" width="235" height="26"/><text class="t" x="901" y="2971.3">私募：非公开发售，仅向特定投资者发行</text></g>
<g id="n-jj1d"><rect class="n" x="764" y="2989" width="236" height="26"/><text class="t" x="774" y="3006.3">按投资目标分：成长型、收入型、平衡型</text></g>
<g id="n-jj1e"><rect class="n" x="764" y="3040" width="91" height="27"/><text class="t" x="774" y="3057.8">按投资理念分</text></g>
<g id="n-jj1e1"><rect class="n" x="891" y="3023" width="224" height="27"/><text class="t" x="901" y="3040.8">主动型：目标是跑赢大盘获得超额回报</text></g>
<g id="n-jj1e2"><rect class="n" x="891" y="3057" width="247" height="26"/><text class="t" x="901" y="3074.3">被动型：目标是复制指数，最小化跟踪误差</text></g>
<g id="n-jj1f"><rect class="n" x="764" y="3092" width="560" height="42"/><text class="t" x="774" y="3108">投资本来源和流向分：国内基金（钱来自国内投向国内金融市场），国际基金（钱来自国内投向国外），</text><text class="t" x="774" y="3126">离岸基金（钱来自国外投向国外），海外基金（钱来自国外投向国内）</text></g>
<g id="n-jj2"><rect class="n" x="662" y="3210" width="90" height="26"/><text class="t" x="672" y="3227.3">参与者（图）</text></g>
<g id="n-jj2img">
<rect class="n" x="788.5" y="3141" width="272.5" height="165"/>
<rect x="798" y="3145" width="254" height="130" fill="#fff"/>
<rect class="gb" x="861.6" y="3151" width="143" height="13.6"/><text class="gt" x="933" y="3161">监管机构</text>
<rect class="gb" x="913.8" y="3185" width="44" height="13"/><text class="gt" x="936" y="3194.5">管理人</text>
<rect class="gb" x="800.5" y="3221" width="83.5" height="17"/><text class="gt" x="842" y="3232.5">中介或代理机构</text>
<rect class="gb" x="992" y="3221" width="52" height="17"/><text class="gt" x="1018" y="3232.5">托管人</text>
<rect class="gb" x="907" y="3257" width="62" height="14.7"/><text class="gt" x="938" y="3267.5">投资者</text>
<ellipse class="gb" cx="937" cy="3229.6" rx="21" ry="7"/><text class="gt" x="937" y="3232.5">基金</text>
<path class="gl" marker-end="url(#ga)" d="M935,3164.6 V3184"/>
<path class="gl" marker-end="url(#ga)" stroke-dasharray="2,2" d="M868,3164.6 V3220"/>
<path class="gl" marker-end="url(#ga)" d="M999,3164.6 V3220"/>
<path class="gl" marker-end="url(#ga)" d="M925,3198 L885,3220"/>
<path class="gl" marker-end="url(#ga)" d="M937,3198 V3221.5"/>
<path class="gl" marker-end="url(#ga)" d="M958,3196 L994,3219"/>
<path class="gl" marker-end="url(#ga)" d="M992,3222 L956,3199"/>
<path class="gl" marker-end="url(#ga)" d="M992,3229.6 H959"/>
<path class="gl" marker-end="url(#ga)" d="M884,3229.6 H915"/>
<path class="gl" marker-end="url(#ga)" d="M937,3257 V3237.5"/>
<text class="gt" x="845" y="3185">监督</text><text class="gt" x="953.5" y="3176">监督</text><text class="gt" x="1014" y="3183">监督</text>
<text class="gt" x="890" y="3203">委托</text><text class="gt" x="924.4" y="3212">管理</text><text class="gt" x="982" y="3201">监督</text>
<text class="gt" x="971" y="3223">保管</text><text class="gt" x="896.7" y="3249">服务</text><text class="gt" x="958" y="3249">购买</text>
</g>
<g id="n-jj3"><rect class="n" x="662" y="3382" width="102" height="27"/><text class="t" x="672" y="3399.8">特殊：对冲基金</text></g>
<g id="n-jj3a"><rect class="n" x="800" y="3314" width="43" height="26"/><text class="t" x="810" y="3331.3">概念</text></g>
<g id="n-jj3a1"><rect class="n" x="880" y="3314" width="460" height="26"/><text class="t" x="890" y="3331.3">一种以有限合伙或有限责任公司形式为主，以套利</text></g>
<g id="n-jj3b"><rect class="n" x="800" y="3382" width="43" height="27"/><text class="t" x="810" y="3399.8">特点</text></g>
<g id="n-jj3b1"><rect class="n" x="880" y="3348" width="158" height="26"/><text class="t" x="890" y="3365.3">（1）投资方式具有私募性</text></g>
<g id="n-jj3b2"><rect class="n" x="880" y="3382" width="170" height="27"/><text class="t" x="890" y="3399.8">（2）投资效应具有高杠杆性</text></g>
<g id="n-jj3b3"><rect class="n" x="880" y="3416" width="158" height="27"/><text class="t" x="890" y="3433.8">（3）市场运作具有隐蔽性</text></g>
<g id="n-jj3c"><rect class="n" x="800" y="3451" width="43" height="26"/><text class="t" x="810" y="3468.3">种类</text></g>
<g id="n-jj3c1"><rect class="n" x="880" y="3451" width="400" height="26"/><text class="t" x="890" y="3468.3">传统型基金、炒买炒卖型基金、套期保值型基金</text></g>
<g id="n-lc"><rect class="n" x="510" y="3502" width="137" height="49"/><text class="t" x="520" y="3519">理财产品市场</text><rect class="h" x="518" y="3528" width="117" height="19"/><text class="ht" x="522" y="3542">又称，资产管理市场</text></g>
<g id="n-lc1"><rect class="n" x="684" y="3515" width="43" height="25"/><text class="t" x="694" y="3531.8">风险</text></g>
<g id="n-lc1a"><rect class="n" x="763" y="3485" width="170" height="25"/><text class="t" x="773" y="3501.8">（1）不合规经营导致的风险</text></g>
<g id="n-lc1b"><rect class="n" x="763" y="3519" width="234" height="49"/><text class="t" x="773" y="3535.5">（2）市场波动导致的风险</text><rect class="h" x="772" y="3545" width="213" height="19"/><text class="ht" x="776" y="3559">需评估投资者的风险偏好与风险承受力</text></g>
<g id="n-bx"><rect class="n" x="510" y="3576" width="67" height="26"/><text class="t" x="520" y="3593.3">保险市场</text></g>
<g id="n-bx1"><rect class="n" x="613" y="3576" width="66" height="26"/><text class="t" x="623" y="3593.3">市场特征</text></g>
<g id="n-bx11"><rect class="n" x="716" y="3576" width="402" height="26"/><text class="t" x="726" y="3593.3">直接的风险市场/非即时清洁市场/特殊的期货交易市场（“灾难期货”）</text></g>
<path class="c" d="M679,3589 H716"/>

<g id="watermark">
<g transform="translate(0,2665) skewX(-12)"><text class="wm" x="197 492 786 1081 1442 1737" y="0">知乎@阿笨璐</text></g>
<text x="1672" y="5068" style="font-family:'Noto Sans CJK SC',sans-serif;font-size:62px;font-weight:500;fill:#9A9A9A">知乎 @阿笨璐</text>
</g>
</g>
</svg>
